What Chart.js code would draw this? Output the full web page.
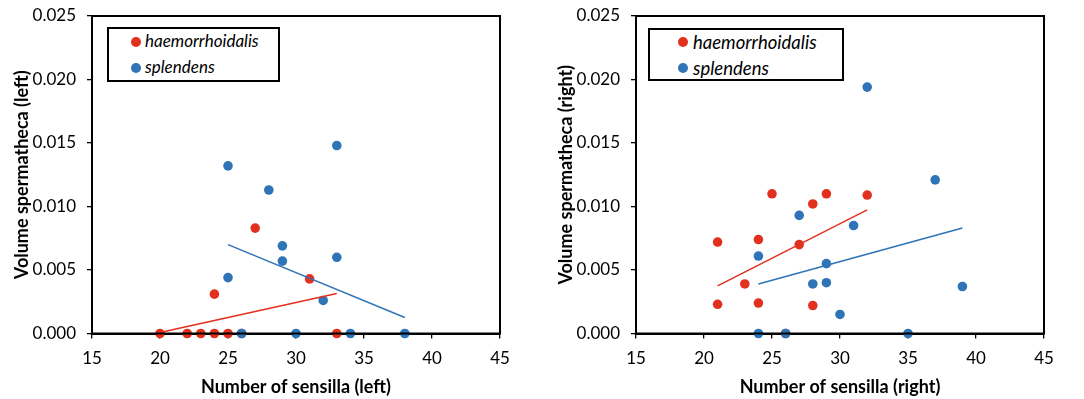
<!DOCTYPE html>
<html>
<head>
<meta charset="utf-8">
<script src="https://cdn.jsdelivr.net/npm/chart.js@4/dist/chart.umd.min.js"></script>
<style>
  html, body { margin:0; padding:0; background:#fff; }
  body { width:1084px; height:399px; position:relative; overflow:hidden; font-family: Lato, "Open Sans", sans-serif; }
  .wrap { position:absolute; top:0; width:540px; height:399px; }
  .legend { position:absolute; border:2px solid #000; background:#fff; box-sizing:border-box; font-style:italic; color:#000; }
  .legend .row { position:absolute; white-space:nowrap; }
  .legend .dot { position:absolute; border-radius:50%; }
</style>
</head>
<body>
<div class="wrap" style="left:0"><canvas id="c1" width="540" height="399"></canvas></div>
<div class="wrap" style="left:544px"><canvas id="c2" width="540" height="399"></canvas></div>
<script>
// ---- data (left sensilla) ----
const leftHaemX = [20, 22, 23, 24, 25, 26, 24, 27, 31, 33];
const leftHaemY = [0, 0, 0, 0, 0, 0, 0.0031, 0.0083, 0.0043, 0];
const leftSplX = [25, 28, 33, 29, 29, 33, 25, 32, 26, 30, 34, 38];
const leftSplY = [0.0132, 0.0113, 0.0148, 0.0069, 0.0057, 0.0060, 0.0044, 0.0026, 0, 0, 0, 0];
const leftHaemTrendX = [20, 33];
const leftHaemTrendY = [0.00008, 0.00315];
const leftSplTrendX = [25, 38];
const leftSplTrendY = [0.0070, 0.00126];

// ---- data (right sensilla) ----
const rightHaemX = [21, 21, 23, 24, 24, 25, 27, 28, 28, 29, 32, 26];
const rightHaemY = [0.0072, 0.0023, 0.0039, 0.0074, 0.0024, 0.0110, 0.0070, 0.0102, 0.0022, 0.0110, 0.0109, 0];
const rightSplX = [32, 37, 27, 31, 24, 29, 28, 29, 39, 30, 24, 26, 35];
const rightSplY = [0.0194, 0.0121, 0.0093, 0.0085, 0.0061, 0.0055, 0.0039, 0.0040, 0.0037, 0.0015, 0, 0, 0];
const rightHaemTrendX = [21, 32];
const rightHaemTrendY = [0.00375, 0.00973];
const rightSplTrendX = [24, 39];
const rightSplTrendY = [0.0039, 0.0083];

// ---- labels ----
const seriesNames = ['haemorrhoidalis', 'splendens'];
const xTicks = [15, 20, 25, 30, 35, 40, 45];
const yTicks = [0, 0.005, 0.010, 0.015, 0.020, 0.025];

const RED = '#E2301F';
const BLUE = '#2F74B7';
const FONT = 'Lato, "Open Sans", sans-serif';

function pts(xs, ys) { return xs.map((x, i) => ({x: x, y: ys[i]})); }

const frame = {
  id: 'frame',
  afterDatasetsDraw(chart) {
    const {ctx, chartArea: a} = chart;
    ctx.save();
    ctx.strokeStyle = '#000';
    ctx.lineWidth = 2;
    ctx.strokeRect(a.left, a.top, a.right - a.left, a.bottom - a.top);
    ctx.restore();
  }
};

function makeChart(id, hx, hy, sx, sy, htx, hty, stx, sty, xTitle, yTitle) {
  return new Chart(document.getElementById(id), {
    type: 'scatter',
    data: {
      datasets: [
        { label: seriesNames[0], data: pts(hx, hy), backgroundColor: RED, borderColor: RED, pointRadius: 4.8, pointHoverRadius: 4.8, borderWidth: 0, order: 4, clip: false },
        { label: seriesNames[1], data: pts(sx, sy), backgroundColor: BLUE, borderColor: BLUE, pointRadius: 4.8, pointHoverRadius: 4.8, borderWidth: 0, order: 3, clip: false },
        { type: 'line', label: 'trend1', data: pts(htx, hty), borderColor: RED, borderWidth: 1.5, pointRadius: 0, fill: false, order: 2, clip: false },
        { type: 'line', label: 'trend2', data: pts(stx, sty), borderColor: BLUE, borderWidth: 1.5, pointRadius: 0, fill: false, order: 1, clip: false }
      ]
    },
    options: {
      responsive: false,
      animation: false,
      events: [],
      layout: { padding: { left: 0, top: 16, right: 40, bottom: 0 } },
      plugins: { legend: { display: false }, tooltip: { enabled: false } },
      scales: {
        x: {
          type: 'linear', min: 15, max: 45,
          afterFit(s) { s.height = 65.5; s.paddingLeft = 0; s.paddingRight = 0; },
          afterBuildTicks(s) { s.ticks = xTicks.map(v => ({value: v})); },
          grid: { drawOnChartArea: false, drawTicks: true, tickLength: 5, color: '#000', lineWidth: 1.3 },
          border: { display: true, color: '#000', width: 2 },
          ticks: { color: '#000', font: { family: FONT, size: 17 }, padding: 10, maxRotation: 0 },
          title: { display: true, text: xTitle, color: '#000', font: { family: FONT, size: 18, weight: 'bold' }, padding: { top: 0, bottom: 1 } }
        },
        y: {
          type: 'linear', min: 0, max: 0.025,
          afterFit(s) { s.width = 92; s.paddingTop = 0; s.paddingBottom = 0; },
          afterBuildTicks(s) { s.ticks = yTicks.map(v => ({value: v})); },
          grid: { drawOnChartArea: false, drawTicks: true, tickLength: 5, color: '#000', lineWidth: 1.3 },
          border: { display: true, color: '#000', width: 2 },
          ticks: { color: '#000', font: { family: FONT, size: 17 }, padding: 11, callback: v => v.toFixed(3) },
          title: { display: true, text: yTitle, color: '#000', font: { family: FONT, size: 18, weight: 'bold' }, padding: { top: 11, bottom: 0 } }
        }
      }
    },
    plugins: [frame]
  });
}

makeChart('c1', leftHaemX, leftHaemY, leftSplX, leftSplY, leftHaemTrendX, leftHaemTrendY, leftSplTrendX, leftSplTrendY,
  'Number of sensilla (left)', 'Volume spermatheca (left)');
makeChart('c2', rightHaemX, rightHaemY, rightSplX, rightSplY, rightHaemTrendX, rightHaemTrendY, rightSplTrendX, rightSplTrendY,
  'Number of sensilla (right)', 'Volume spermatheca (right)');

// HTML legends built from series names/colours
function legend(left, top, w, h, fontSize, dotX, textX, rowYs) {
  const d = document.createElement('div');
  d.className = 'legend';
  Object.assign(d.style, { left: left + 'px', top: top + 'px', width: w + 'px', height: h + 'px', fontSize: fontSize + 'px' });
  const colors = [RED, BLUE];
  seriesNames.forEach((n, i) => {
    const dot = document.createElement('div');
    dot.className = 'dot';
    Object.assign(dot.style, { left: (dotX - 5) + 'px', top: (rowYs[i] - 5) + 'px', width: '10px', height: '10px', background: colors[i] });
    d.appendChild(dot);
    const r = document.createElement('div');
    r.className = 'row';
    r.textContent = n;
    Object.assign(r.style, { left: textX + 'px', top: (rowYs[i] - fontSize * 0.62) + 'px', lineHeight: '1.2' });
    d.appendChild(r);
  });
  document.body.appendChild(d);
}
legend(107, 27, 173, 55, 17, 27, 36, [13, 39]);
legend(648, 28, 196, 53, 18.5, 33, 43, [12, 38]);
</script>
</body>
</html>
